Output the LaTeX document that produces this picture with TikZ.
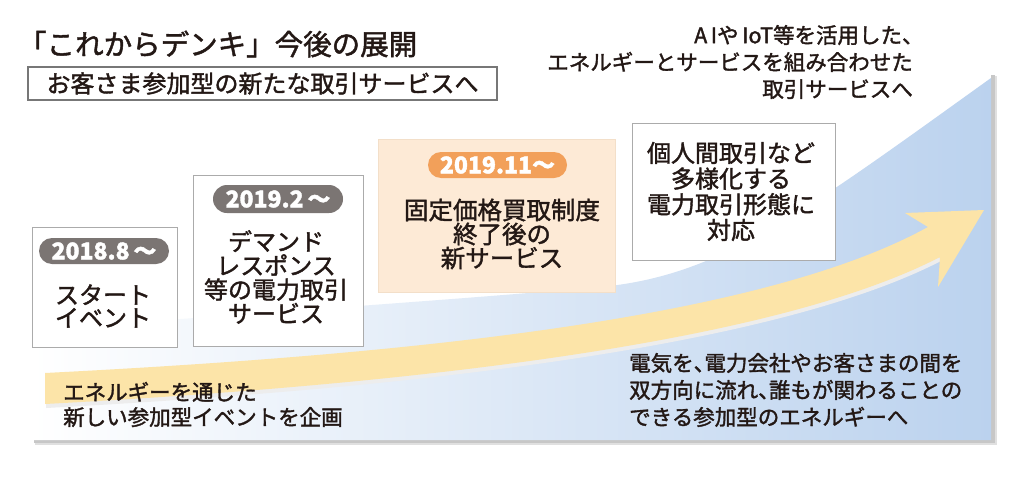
\documentclass[tikz,border=0pt]{standalone}
\usepackage{fontspec}
\setmainfont{Noto Sans CJK JP}[FakeBold=1.6]
\definecolor{ink}{HTML}{231815}
\definecolor{pillgray}{HTML}{7B7573}
\definecolor{pillorange}{HTML}{F2A05A}
\definecolor{peach}{HTML}{FDEAD6}
\definecolor{peachline}{HTML}{F3DFC9}
\definecolor{boxline}{HTML}{ABABAB}
\definecolor{subline}{HTML}{777777}
\definecolor{arrowyellow}{HTML}{FCE4A8}
\definecolor{skyblue}{HTML}{BBD2EE}
\definecolor{midblue}{HTML}{E6EFF9}
\newcommand{\jpcomma}{\makebox[0.5em][l]{、}}
\tikzset{
  txt/.style={text=ink, inner sep=0pt},
  boxtxt/.style={txt, align=center, font=\fontsize{24pt}{24pt}\selectfont},
  framebox/.style={draw=boxline, line width=0.9pt, fill=white, inner sep=0pt},
  pill/.style={rounded corners=13pt, inner sep=0pt, text=white,
    font=\fontsize{23pt}{23pt}\selectfont\bfseries},
}
\begin{document}
\begin{tikzpicture}[x=1pt,y=-1pt]
\useasboundingbox (0,0) rectangle (1024,479);
% panel with shadow
\fill[black!12] (35,76) rectangle (997,445);
\fill[black!22] (34,75) rectangle (995,443);
\fill[white] (32,73) rectangle (991,440);
% blue background sweep
\shade[left color=white, middle color=midblue, right color=skyblue]
  (32,330) .. controls (300,310) and (450,300) .. (600,287)
  .. controls (720,276) and (800,215) .. (991,78)
  -- (991,440) -- (32,440) -- cycle;
% arrow
\fill[black!7] (46,377) .. controls (400,359) and (760,324) .. (929,231)
  -- (941,261) .. controls (770,349) and (400,389) .. (46,408) -- cycle;
\fill[arrowyellow] (45,373) .. controls (400,355) and (760,320) .. (928,227)
  -- (905,213) -- (984,210) -- (938,287) -- (940,257)
  .. controls (770,345) and (400,385) .. (45,404) -- cycle;
% title
\node[txt, anchor=west, font=\fontsize{28.5pt}{30pt}\selectfont] (title) at (18,44) {「これからデンキ」今後の展開};
\node[txt, draw=subline, line width=1.1pt, minimum width=469pt, minimum height=33pt,
  font=\fontsize{24pt}{24pt}\selectfont] (sub) at (262.5,83.5) {お客さま参加型の新たな取引サービスへ};
% top right
\node[txt, anchor=east, align=right, font=\fontsize{21.5pt}{27pt}\selectfont] (future) at (913,62)
  {A\,Iや\,IoT等を活用した\jpcomma\\エネルギーとサービスを組み合わせた\\取引サービスへ};
% box A
\node[framebox, minimum width=145pt, minimum height=120pt] (boxA) at (104.5,287) {};
\node[pill, fill=pillgray, minimum width=130pt, minimum height=26pt] (pillA) at (104,251) {2018.8\,～};
\node[boxtxt, font=\fontsize{24pt}{23pt}\selectfont] (txtA) at (103,306) {スタート\\イベント};
% box B
\node[framebox, minimum width=170pt, minimum height=171pt] (boxB) at (278,260.5) {};
\node[pill, fill=pillgray, minimum width=130pt, minimum height=28pt, rounded corners=14pt] (pillB) at (278,199) {2019.2\,～};
\node[boxtxt] (txtB) at (276,277) {デマンド\\レスポンス\\等の電力取引\\サービス};
% box C
\node[fill=peach, draw=peachline, line width=0.8pt, minimum width=237pt, minimum height=153pt, inner sep=0pt] (boxC) at (496.5,215.5) {};
\node[pill, fill=pillorange, minimum width=139pt, minimum height=26pt] (pillC) at (497.5,165) {2019.11～};
\node[boxtxt, font=\fontsize{24.5pt}{24pt}\selectfont] (txtC) at (502,234) {固定価格買取制度\\終了後の\\新サービス};
% box D
\node[framebox, minimum width=203pt, minimum height=137pt] (boxD) at (733.5,191.5) {};
\node[boxtxt, font=\fontsize{24pt}{25.7pt}\selectfont] (txtD) at (731,191.5) {個人間取引など\\多様化する\\電力取引形態に\\対応};
% bottom texts
\node[txt, anchor=west, align=left, font=\fontsize{21.5pt}{25pt}\selectfont] (eventnote) at (63,404.5)
  {エネルギーを通じた\\新しい参加型イベントを企画};
\node[txt, anchor=west, align=left, font=\fontsize{21.5pt}{27pt}\selectfont] (energynote) at (629,390)
  {電気を\jpcomma 電力会社やお客さまの間を\\双方向に流れ\jpcomma 誰もが関わることの\\できる参加型のエネルギーへ};
\end{tikzpicture}
\end{document}
